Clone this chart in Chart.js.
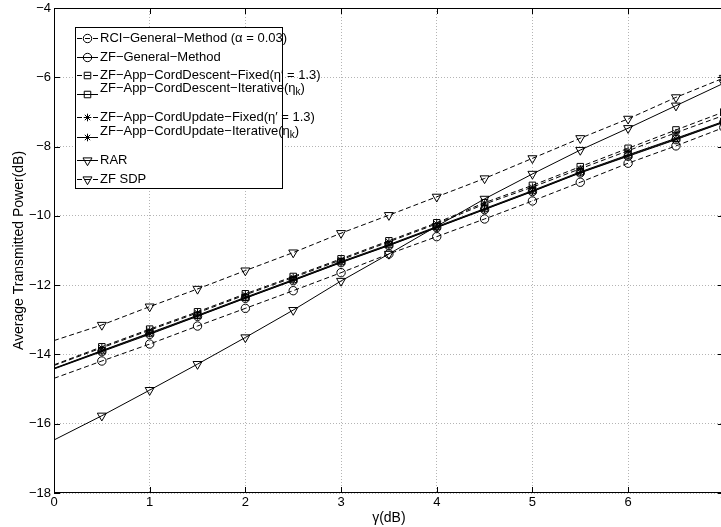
<!DOCTYPE html>
<html>
<head>
<meta charset="utf-8">
<script src="https://cdn.jsdelivr.net/npm/chart.js@4.4.1/dist/chart.umd.min.js"></script>
<style>
  html, body { margin: 0; padding: 0; background: #fff; overflow: hidden; }
  #wrap { width: 730px; height: 527px; }
</style>
</head>
<body>
<div id="wrap"><canvas id="powerChart" width="730" height="527"></canvas></div>
<script>
// SNR target (dB)
const gammaDb = [0, 0.5, 1, 1.5, 2, 2.5, 3, 3.5, 4, 4.5, 5, 5.5, 6, 6.5, 7];

// average transmitted power (dB) per scheme
const rciGeneral = [-14.69, -14.19, -13.70, -13.18, -12.67, -12.16, -11.64, -11.10, -10.60, -10.09, -9.57, -9.03, -8.48, -7.98, -7.45];
const zfGeneral  = [-14.42, -13.92, -13.42, -12.90, -12.38, -11.87, -11.35, -10.86, -10.34, -9.82, -9.30, -8.76, -8.28, -7.80, -7.30];
const cdFixed    = [-14.30, -13.78, -13.27, -12.77, -12.25, -11.75, -11.24, -10.72, -10.20, -9.62, -9.12, -8.58, -8.05, -7.52, -7.00];
const cdIter     = [-14.40, -13.89, -13.38, -12.87, -12.35, -11.84, -11.32, -10.83, -10.31, -9.79, -9.27, -8.73, -8.24, -7.76, -7.27];
const cuFixed    = [-14.32, -13.81, -13.30, -12.80, -12.28, -11.78, -11.27, -10.75, -10.23, -9.66, -9.17, -8.64, -8.12, -7.60, -7.10];
const cuIter     = [-14.41, -13.90, -13.40, -12.89, -12.37, -11.86, -11.34, -10.85, -10.33, -9.81, -9.29, -8.75, -8.26, -7.78, -7.29];
const rar        = [-16.47, -15.77, -15.03, -14.28, -13.51, -12.72, -11.88, -11.10, -10.30, -9.51, -8.79, -8.10, -7.47, -6.82, -6.17];
const zfSdp      = [-13.60, -13.15, -12.62, -12.11, -11.58, -11.06, -10.50, -9.98, -9.45, -8.92, -8.34, -7.76, -7.20, -6.58, -6.02];

const xTicks = [0, 1, 2, 3, 4, 5, 6, 7];
const yTicks = [-18, -16, -14, -12, -10, -8, -6, -4];

const seriesLabels = [
    "RCI−General−Method (α = 0.03)",
    "ZF−General−Method",
    "ZF−App−CordDescent−Fixed(η′ = 1.3)",
    "ZF−App−CordDescent−Iterative(η_k)",
    "ZF−App−CordUpdate−Fixed(η′ = 1.3)",
    "ZF−App−CordUpdate−Iterative(η_k)",
    "RAR",
    "ZF SDP"
];

const DASH = [5, 3];
const FONT = "'Liberation Sans', Arial, Helvetica, sans-serif";

function series(label, values, style, dashed, radius, rotation) {
    return {
        label: label,
        data: values.map((v, i) => ({x: gammaDb[i], y: v})),
        borderColor: "#000",
        backgroundColor: "rgba(0,0,0,0)",
        borderWidth: 1,
        borderDash: dashed ? DASH : [],
        pointStyle: style,
        pointRotation: rotation || 0,
        pointBorderColor: "#000",
        pointBackgroundColor: "rgba(0,0,0,0)",
        pointBorderWidth: 1,
        pointRadius: c => c.dataIndex === 0 ? 0 : radius,
        legendRadius: radius,
        tension: 0,
        fill: false
    };
}

const datasets = [
    series(seriesLabels[0], rciGeneral, "circle", true, 4.2),
    series(seriesLabels[1], zfGeneral, "circle", false, 4.2),
    series(seriesLabels[2], cdFixed, "rect", true, 4.6),
    series(seriesLabels[3], cdIter, "rect", false, 4.6),
    series(seriesLabels[4], cuFixed, "star", true, 3.8),
    series(seriesLabels[5], cuIter, "star", false, 3.8),
    series(seriesLabels[6], rar, "triangle", false, 5.2, 180),
    series(seriesLabels[7], zfSdp, "triangle", true, 5.2, 180)
];

// legend rows: line/marker y and text y (subscripted rows sit lower)
const legendRows = [
    {line: 38, text: 38}, {line: 57, text: 57}, {line: 75, text: 75}, {line: 94, text: 88},
    {line: 117, text: 117}, {line: 137, text: 131}, {line: 160, text: 160}, {line: 179, text: 179}
];

function drawRich(ctx, text, x, y) {
    const parts = text.split(/_(\w)/);
    let cx = x;
    parts.forEach((p, i) => {
        if (!p) return;
        const sub = i % 2 === 1;
        ctx.font = (sub ? "10px " : "13px ") + FONT;
        ctx.fillText(p, cx, sub ? y + 4 : y);
        cx += ctx.measureText(p).width;
    });
}

const framePlugin = {
    id: "frame",
    afterDraw(chart) {
        const ctx = chart.ctx;
        const a = chart.chartArea;
        const xs = chart.scales.x, ys = chart.scales.y;
        ctx.save();
        ctx.strokeStyle = "#000";
        ctx.lineWidth = 1;
        ctx.strokeRect(a.left + 0.5, a.top + 0.5, a.right - a.left - 1, a.bottom - a.top - 1);
        // inward tick marks on all four sides
        ctx.beginPath();
        xTicks.forEach(v => {
            const px = Math.round(xs.getPixelForValue(v)) + 0.5;
            ctx.moveTo(px, a.bottom); ctx.lineTo(px, a.bottom - 6);
            ctx.moveTo(px, a.top); ctx.lineTo(px, a.top + 6);
        });
        yTicks.forEach(v => {
            const py = Math.round(ys.getPixelForValue(v)) + 0.5;
            ctx.moveTo(a.left, py); ctx.lineTo(a.left + 6, py);
            ctx.moveTo(a.right, py); ctx.lineTo(a.right - 6, py);
        });
        ctx.stroke();

        // legend box
        const bx = 75, by = 27, bw = 207, bh = 161;
        ctx.fillStyle = "#fff";
        ctx.fillRect(bx, by, bw, bh);
        ctx.strokeRect(bx + 0.5, by + 0.5, bw, bh);
        chart.data.datasets.forEach((ds, i) => {
            const row = legendRows[i];
            const ly = row.line + 0.5;
            ctx.save();
            ctx.setLineDash(ds.borderDash);
            ctx.beginPath();
            ctx.moveTo(77, ly);
            ctx.lineTo(98, ly);
            ctx.stroke();
            ctx.restore();
            ctx.fillStyle = "rgba(0,0,0,0)";
            Chart.helpers.drawPoint(ctx, {
                pointStyle: ds.pointStyle,
                rotation: ds.pointRotation,
                radius: ds.legendRadius,
                borderWidth: 1
            }, 87.5, ly);
            ctx.fillStyle = "#000";
            ctx.textBaseline = "middle";
            ctx.textAlign = "left";
            drawRich(ctx, ds.label, 100, row.text);
        });
        ctx.restore();
    }
};

const minus = v => (v < 0 ? "−" + Math.abs(v) : String(v));

new Chart(document.getElementById("powerChart").getContext("2d"), {
    type: "line",
    data: {datasets: datasets},
    options: {
        responsive: false,
        animation: false,
        layout: {padding: {top: 5, right: 0, left: 0, bottom: 0}},
        plugins: {legend: {display: false}, tooltip: {enabled: false}},
        scales: {
            x: {
                type: "linear",
                min: 0,
                max: 7,
                afterBuildTicks: s => { s.ticks = xTicks.map(v => ({value: v})); },
                afterFit: s => { s.height = 34; },
                ticks: {color: "#000", padding: 2, maxRotation: 0, font: {family: FONT, size: 13}, callback: minus},
                grid: {color: "#b4b4b4", drawTicks: false},
                border: {display: false, dash: [1, 2]},
                title: {display: true, text: "γ(dB)", color: "#000", font: {family: FONT, size: 14}, padding: {top: 1, bottom: 0}}
            },
            y: {
                min: -18,
                max: -4,
                afterBuildTicks: s => { s.ticks = yTicks.map(v => ({value: v})); },
                afterFit: s => { s.width = 54; },
                ticks: {color: "#000", padding: 3, font: {family: FONT, size: 13, lineHeight: 0.77}, callback: minus},
                grid: {color: "#b4b4b4", drawTicks: false},
                border: {display: false, dash: [1, 2]},
                title: {display: true, text: "Average Transmitted Power(dB)", color: "#000", font: {family: FONT, size: 14}, padding: {top: 11, bottom: 0}}
            }
        }
    },
    plugins: [framePlugin]
});
</script>
</body>
</html>
